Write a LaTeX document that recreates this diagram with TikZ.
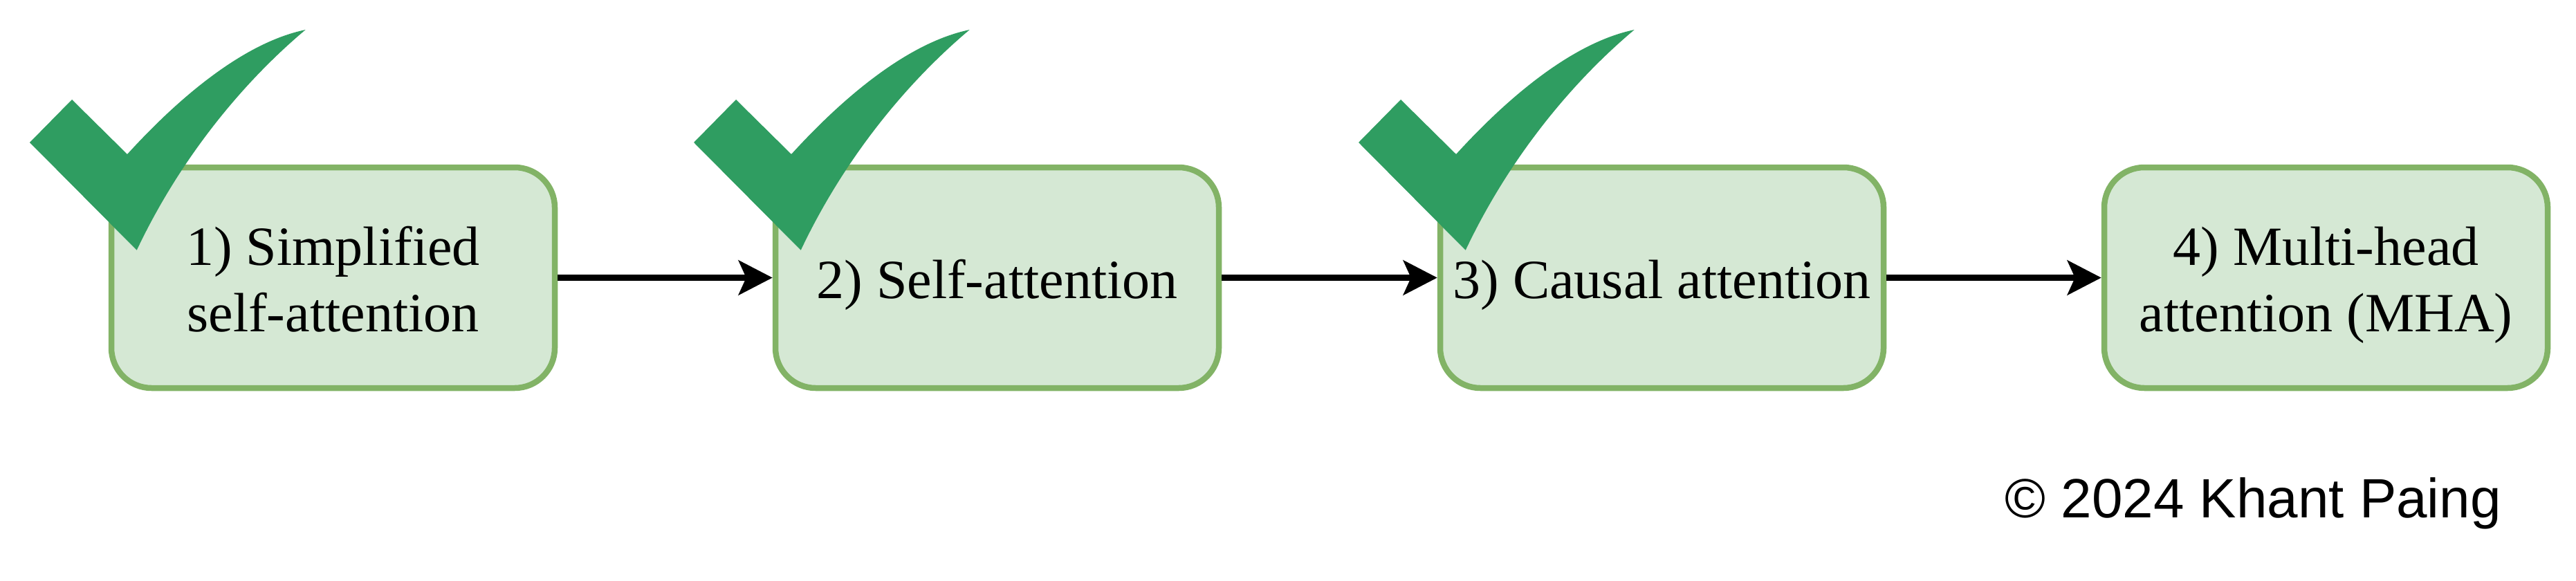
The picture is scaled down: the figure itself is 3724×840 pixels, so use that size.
\documentclass[tikz,border=0pt]{standalone}
\usepackage{fontspec}
\setmainfont{Liberation Serif}
\newfontfamily\creditfont{Liberation Sans}
\usetikzlibrary{arrows.meta}
\definecolor{boxfill}{HTML}{D5E8D4}
\definecolor{boxline}{HTML}{82B366}
\definecolor{tickgreen}{HTML}{2F9D61}
\tikzset{
  stagebox/.style={draw=boxline,fill=boxfill,line width=8.5pt,rounded corners=58pt,
    minimum width=641pt,minimum height=319pt,inner sep=0pt,align=center,
    font=\fontsize{80}{96}\selectfont,text=black},
  oneline/.style={text height=60pt,text depth=0pt},
  twoline/.style={text height=156pt,text depth=0pt},
  flow/.style={line width=8.5pt,draw=black,-{Stealth[length=49pt,width=50pt,inset=11pt]}},
  credit/.style={font=\creditfont\fontsize{80}{96}\selectfont,text=black,inner sep=0pt,anchor=base east},
  tickmark/.pic={\fill[tickgreen] (43,206) -- (104,144) -- (184,223)
     .. controls (255,145) and (350,62) .. (441.7,43)
     .. controls (350,120) and (260,230) .. (197.7,361.7) -- cycle;}
}
\begin{document}
\begin{tikzpicture}[x=1pt,y=-1pt]
\useasboundingbox (0,0) rectangle (3724,840);
\node[stagebox,twoline] (a) at (481.5,401.5) {1) Simplified\\self-attention};
\node[stagebox,oneline] (b) at (1441.5,401.5) {2) Self-attention};
\node[stagebox,oneline] (c) at (2402.5,401.5) {3) Causal attention};
\node[stagebox,twoline] (d) at (3362.5,401.5) {4) Multi-head\\attention (MHA)};
\draw[flow] (a) -- (b);
\draw[flow] (b) -- (c);
\draw[flow] (c) -- (d);
\pic at (0,0) {tickmark};
\pic at (960,0) {tickmark};
\pic at (1921,0) {tickmark};
\node[credit] (cr) at (3616,748) {© 2024 Khant Paing};
\end{tikzpicture}
\end{document}
